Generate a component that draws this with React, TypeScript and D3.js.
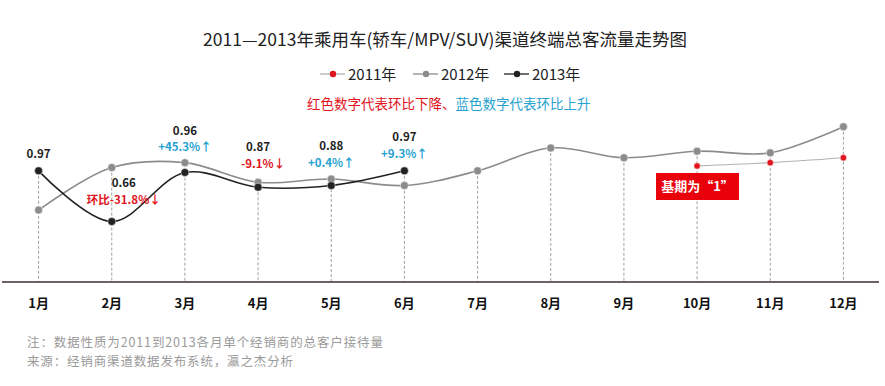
import * as d3 from "d3";

const months = ["1月", "2月", "3月", "4月", "5月", "6月", "7月", "8月", "9月", "10月", "11月", "12月"];
// 2011 only Oct-Dec (base period = 1)
const s2011: (number | null)[] = [null, null, null, null, null, null, null, null, null, 1.0, 1.02, 1.05];
const s2012: (number | null)[] = [0.73, 0.99, 1.02, 0.9, 0.92, 0.88, 0.97, 1.11, 1.05, 1.09, 1.08, 1.24];
const s2013: (number | null)[] = [0.97, 0.66, 0.96, 0.87, 0.88, 0.97, null, null, null, null, null, null];
// month-on-month change labels for 2013
const changes = ["", "环比-31.8%↓", "+45.3%↑", "-9.1%↓", "+0.4%↑", "+9.3%↑"];

const W = 885;
const H = 386;
const RED = "#e0141c";
const BLUE = "#27a2cf";
const FONT = "'Noto Sans CJK SC', 'Noto Sans', sans-serif";

// label offsets per 2013 month, relative to the 2013 point: [value dx, value dy, change dx, change dy]
const labelPos = [
  [0, -17, 0, 0],
  [12, -39, 12, -22],
  [0, -41, 0, -25],
  [0, -40, 5, -23],
  [0, -40, 0, -23],
  [0, -34, 0, -17],
];

export default function App() {
  const x = d3.scalePoint<string>().domain(months).range([2, 880]).padding(0.5);
  const y = d3.scaleLinear().domain([0.29, 1.3]).range([282, 116.9]);
  const base = y(0.29);

  const line = d3
    .line<number | null>()
    .defined((d) => d != null)
    .x((_, i) => x(months[i]) as number)
    .y((d) => y(d as number))
    .curve(d3.curveCatmullRom.alpha(0.5));

  const series = [
    { name: "2011年", data: s2011, stroke: "#b0b0b0", width: 1.2, dot: RED, r: 3.2 },
    { name: "2012年", data: s2012, stroke: "#8c8c8c", width: 1.6, dot: "#8c8c8c", r: 4 },
    { name: "2013年", data: s2013, stroke: "#222222", width: 1.6, dot: "#222222", r: 4 },
  ];

  const tops = months.map((_, i) =>
    d3.max([s2011[i], s2012[i], s2013[i]].filter((v) => v != null) as number[]) as number
  );

  const legendX = [320, 413, 504];

  return (
    <div style={{ position: "absolute", left: 0, top: 0 }}>
      <svg width={W} height={H} style={{ display: "block", background: "#fff" }} fontFamily={FONT}>
        <text x={445} y={46} textAnchor="middle" fontSize={17.5} fill="#222">
          2011—2013年乘用车(轿车/MPV/SUV)渠道终端总客流量走势图
        </text>

        {series.map((s, i) => (
          <g key={s.name} transform={`translate(${legendX[i]},74)`}>
            <line x1={0} x2={25} y1={0} y2={0} stroke={i === 0 ? "#b0b0b0" : s.stroke} strokeWidth={1.3} />
            <circle cx={13} cy={0} r={3.2} fill={s.dot} />
            <text x={28} y={5.5} fontSize={15} fill="#222">
              {s.name}
            </text>
          </g>
        ))}

        <text x={307} y={108.5} fontSize={13.5}>
          <tspan fill={RED}>红色数字代表环比下降、</tspan>
          <tspan fill={BLUE}>蓝色数字代表环比上升</tspan>
        </text>

        {months.map((m, i) => (
          <line
            key={m}
            x1={x(m)}
            x2={x(m)}
            y1={y(tops[i])}
            y2={base}
            stroke="#a0a0a0"
            strokeWidth={1}
            strokeDasharray="3,2"
          />
        ))}

        <line x1={2} x2={879} y1={base} y2={base} stroke="#3f2c30" strokeWidth={1.6} />

        {series.map((s) => (
          <g key={s.name}>
            <path d={line(s.data) || ""} fill="none" stroke={s.stroke} strokeWidth={s.width} />
            {s.data.map((v, i) =>
              v == null ? null : (
                <circle key={i} cx={x(months[i])} cy={y(v)} r={s.r} fill={s.dot} stroke="#fff" strokeWidth={0.5} />
              )
            )}
          </g>
        ))}

        {changes.map((c, i) => {
          const v = s2013[i] as number;
          const cx = x(months[i]) as number;
          const ty = y(v);
          const [vdx, vdy, cdx, cdy] = labelPos[i];
          return (
            <g key={i} fontWeight="bold" fontSize={11.5}>
              <text x={cx + vdx} y={ty + vdy + 4} textAnchor="middle" fill="#222">
                {v.toFixed(2)}
              </text>
              {c && (
                <text x={cx + cdx} y={ty + cdy + 4} textAnchor="middle" fill={c.startsWith("+") ? BLUE : RED}>
                  {c}
                </text>
              )}
            </g>
          );
        })}

        <rect x={656} y={173} width={83} height={27} fill="#e8000b" />
        <text x={697.5} y={191} textAnchor="middle" fontSize={13} fontWeight="bold" fill="#fff">
          基期为“1”
        </text>

        {months.map((m) => (
          <text key={m} x={x(m)} y={308} textAnchor="middle" fontSize={13} fontWeight="bold" fill="#111">
            {m}
          </text>
        ))}

        <text x={27} y={347} fontSize={12.5} fill="#9a9a9a" textLength={356} lengthAdjust="spacing">
          注：数据性质为2011到2013各月单个经销商的总客户接待量
        </text>
        <text x={27} y={366} fontSize={12.5} fill="#9a9a9a" textLength={266} lengthAdjust="spacing">
          来源：经销商渠道数据发布系统，瀛之杰分析
        </text>
      </svg>
    </div>
  );
}
